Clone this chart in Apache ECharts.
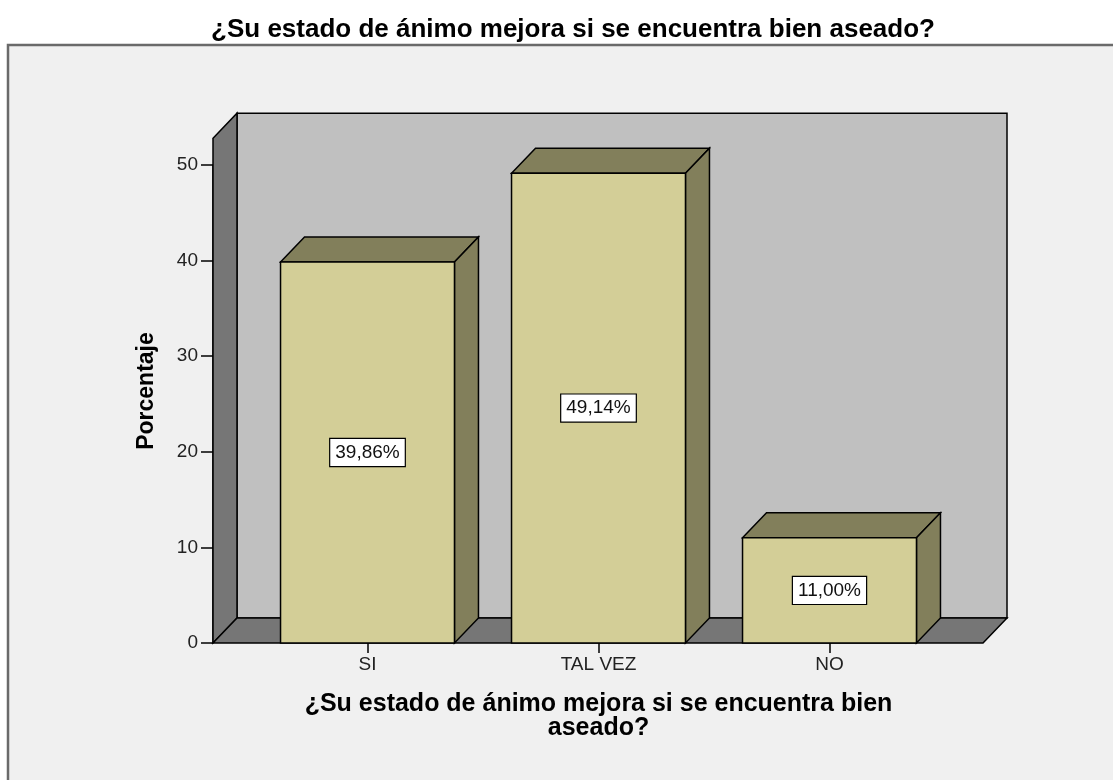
<!DOCTYPE html>
<html>
<head>
<meta charset="utf-8">
<script src="https://cdn.jsdelivr.net/npm/echarts@6/dist/echarts.min.js"></script>
<style>
  html, body { margin: 0; padding: 0; background: #ffffff; }
  #myChart { width: 1113px; height: 780px; }
</style>
</head>
<body>
<div id="myChart"></div>
<script>
// data
const categories = ['SI', 'TAL VEZ', 'NO'];
const percents = [39.86, 49.14, 11.00];
const wallTop = 52.8;   // walls reach a bit above the last tick

const DX = 24, DY = 25; // 3d depth offset
const FONT = '"Liberation Sans", Arial, sans-serif';

const fmt = v => v.toFixed(2).replace('.', ',') + '%';

let myChart = echarts.init(document.getElementById('myChart'));

let option = {
    animation: false,
    backgroundColor: '#ffffff',
    title: {
        text: '¿Su estado de ánimo mejora si se encuentra bien aseado?',
        left: 568,
        top: 12,
        textAlign: 'center',
        textStyle: { fontFamily: FONT, fontSize: 26, fontWeight: 'bold', color: '#000' }
    },
    graphic: [
        {
            type: 'rect',
            z: -10,
            shape: { x: 8, y: 45, width: 1120, height: 760 },
            style: { fill: '#f0f0f0', stroke: '#6a6a6a', lineWidth: 2.5 }
        }
    ],
    grid: { left: 252, right: 168, top: 165, bottom: 137 },
    xAxis: {
        type: 'category',
        data: categories,
        axisLine: { show: false },
        axisTick: { show: true, alignWithLabel: true, length: 10, lineStyle: { color: '#000', width: 1.5 } },
        axisLabel: { fontFamily: FONT, fontSize: 19, color: '#222', margin: 12 },
        name: '¿Su estado de ánimo mejora si se encuentra bien\naseado?',
        nameLocation: 'middle',
        nameGap: 49,
        nameTextStyle: { fontFamily: FONT, fontSize: 25, fontWeight: 'bold', color: '#000', lineHeight: 24 },
        z: 10
    },
    yAxis: {
        type: 'value',
        min: 0,
        max: 50,
        interval: 10,
        offset: 39,
        splitLine: { show: false },
        axisLine: { show: true, lineStyle: { color: '#000', width: 1.5 } },
        axisTick: { show: true, length: 12, lineStyle: { color: '#000', width: 1.5 } },
        axisLabel: { fontFamily: FONT, fontSize: 19, color: '#222', margin: 15 },
        name: 'Porcentaje',
        nameLocation: 'middle',
        nameGap: 55,
        nameTextStyle: { fontFamily: FONT, fontSize: 23, fontWeight: 'bold', color: '#000', padding: [0, 0, 0, 26] }
    },
    series: [
        {
            // back wall, left wall and floor
            type: 'custom',
            silent: true,
            clip: false,
            z: 1,
            data: [[0, wallTop]],
            renderItem: function (params, api) {
                const cs = params.coordSys;
                const xl = cs.x - 39;
                const xr = cs.x + cs.width + 38;
                const yTop = api.coord([0, api.value(1)])[1];
                const y0 = api.coord([0, 0])[1];
                const st = { stroke: '#000', lineWidth: 1.5 };
                return {
                    type: 'group',
                    children: [
                        {
                            type: 'rect',
                            shape: { x: xl + DX, y: yTop - DY, width: xr - xl, height: y0 - yTop },
                            style: Object.assign({ fill: '#c0c0c0' }, st)
                        },
                        {
                            type: 'polygon',
                            shape: { points: [[xl, y0], [xl, yTop], [xl + DX, yTop - DY], [xl + DX, y0 - DY]] },
                            style: Object.assign({ fill: '#767676' }, st)
                        },
                        {
                            type: 'polygon',
                            shape: { points: [[xl, y0], [xl + DX, y0 - DY], [xr + DX, y0 - DY], [xr, y0]] },
                            style: Object.assign({ fill: '#767676' }, st)
                        }
                    ]
                };
            }
        },
        {
            type: 'custom',
            z: 5,
            clip: false,
            data: percents.map((v, i) => [i, v]),
            encode: { x: 0, y: 1 },
            renderItem: function (params, api) {
                const idx = api.value(0);
                const val = api.value(1);
                const top = api.coord([idx, val]);
                const base = api.coord([idx, 0]);
                const mid = api.coord([idx, val / 2]);
                const w = api.size([1, 0])[0] * 0.753;
                const x0 = top[0] - w / 2, x1 = top[0] + w / 2;
                const yt = top[1], yb = base[1];
                const st = { stroke: '#000', lineWidth: 1.5 };
                return {
                    type: 'group',
                    children: [
                        {
                            type: 'polygon',
                            shape: { points: [[x0, yt], [x0 + DX, yt - DY], [x1 + DX, yt - DY], [x1, yt]] },
                            style: Object.assign({ fill: '#827f5b' }, st)
                        },
                        {
                            type: 'polygon',
                            shape: { points: [[x1, yt], [x1 + DX, yt - DY], [x1 + DX, yb - DY], [x1, yb]] },
                            style: Object.assign({ fill: '#827f5b' }, st)
                        },
                        {
                            type: 'rect',
                            shape: { x: x0, y: yt, width: w, height: yb - yt },
                            style: Object.assign({ fill: '#d3ce97' }, st)
                        },
                        {
                            type: 'text',
                            x: mid[0],
                            y: mid[1],
                            style: {
                                text: fmt(val),
                                align: 'center',
                                verticalAlign: 'middle',
                                fontFamily: FONT,
                                fontSize: 19,
                                fill: '#111',
                                backgroundColor: '#ffffff',
                                borderColor: '#000',
                                borderWidth: 1.2,
                                padding: [5, 5, 3, 5]
                            }
                        }
                    ]
                };
            }
        }
    ]
};

myChart.setOption(option);
</script>
</body>
</html>
